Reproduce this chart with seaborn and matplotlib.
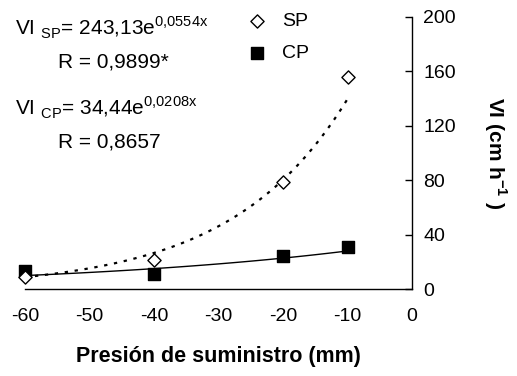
import numpy as np
import pandas as pd
import matplotlib.pyplot as plt
import seaborn as sns

# data
presion = [-60, -40, -20, -10]
vi_sp = [9, 21, 79, 156]
vi_cp = [13, 11, 24, 31]

# fitted exponential models shown in the chart
sp_a, sp_b = 243.13, 0.0554
cp_a, cp_b = 34.44, 0.0208

sns.set_style("white")
plt.rcParams['font.family'] = ['Liberation Sans', 'DejaVu Sans']
plt.rcParams['mathtext.fontset'] = 'custom'
plt.rcParams['mathtext.rm'] = 'Liberation Sans'
plt.rcParams['mathtext.bf'] = 'Liberation Sans:bold'
plt.rcParams['axes.unicode_minus'] = False
for k in ['text.color', 'axes.labelcolor', 'xtick.color', 'ytick.color']:
    plt.rcParams[k] = 'black'

df = pd.DataFrame({"x": presion * 2,
                   "vi": vi_sp + vi_cp,
                   "serie": ["SP"] * 4 + ["CP"] * 4})

xs = np.linspace(-60, -10, 100)
fit = pd.DataFrame({"x": np.concatenate([xs, xs]),
                    "vi": np.concatenate([sp_a * np.exp(sp_b * xs), cp_a * np.exp(cp_b * xs)]),
                    "serie": ["SP"] * 100 + ["CP"] * 100})

fig = plt.figure(figsize=(5.17, 3.76), dpi=100)
ax = fig.add_axes([25 / 517, 1 - 289 / 376, 387 / 517, 272 / 376])

sns.lineplot(data=fit[fit.serie == "SP"], x="x", y="vi", ax=ax, color="black",
             linestyle=(0, (1.5, 3)), linewidth=1.6, legend=False)
sns.lineplot(data=fit[fit.serie == "CP"], x="x", y="vi", ax=ax, color="black",
             linewidth=1.0, legend=False)

sp = df[df.serie == "SP"]
cp = df[df.serie == "CP"]
ax.scatter(cp.x, cp.vi, marker="s", s=85, color="black", zorder=3, label="CP", clip_on=False)
ax.scatter(sp.x, sp.vi, marker="D", s=45, facecolor="white", edgecolor="black",
           linewidth=1.0, zorder=4, label="SP", clip_on=False)

ax.set_xlim(-60, 0)
ax.set_ylim(0, 200)
ax.set_xticks([-60, -50, -40, -30, -20, -10, 0])
ax.set_yticks([0, 40, 80, 120, 160, 200])

ax.spines["left"].set_visible(False)
ax.spines["top"].set_visible(False)
ax.spines["right"].set_visible(True)
ax.spines["bottom"].set_visible(True)
for s in ["right", "bottom"]:
    ax.spines[s].set_color("black")
    ax.spines[s].set_linewidth(1.0)

ax.yaxis.tick_right()
ax.yaxis.set_label_position("right")
ax.tick_params(axis="y", direction="in", length=5, width=1, labelsize=14, pad=8,
               left=False, right=True)
ax.tick_params(axis="x", direction="out", length=5, width=1, labelsize=14, pad=9)

ax.set_xlabel("Presión de suministro (mm)", fontsize=15.5, fontweight="bold", labelpad=15)
ax.set_ylabel("VI (cm h$^{\\mathbf{-1}}$ )", fontsize=15, fontweight="bold",
              rotation=-90, labelpad=38)

fig.text(15 / 517, 1 - 35 / 376, "VI $_{\\mathrm{SP}}$= 243,13e$^{\\mathrm{0{,}0554x}}$", fontsize=15)
fig.text(58 / 517, 1 - 67 / 376, "R = 0,9899*", fontsize=15)
fig.text(15 / 517, 1 - 115 / 376, "VI $_{\\mathrm{CP}}$= 34,44e$^{\\mathrm{0{,}0208x}}$", fontsize=15)
fig.text(58 / 517, 1 - 147 / 376, "R = 0,8657", fontsize=15)

handles, labels = ax.get_legend_handles_labels()
ax.legend(handles[::-1], labels[::-1], loc="upper left", bbox_to_anchor=(195 / 387, 1.082),
          frameon=False, fontsize=14, handletextpad=0.3, labelspacing=0.75)

fig.savefig("out.png", dpi=100)
